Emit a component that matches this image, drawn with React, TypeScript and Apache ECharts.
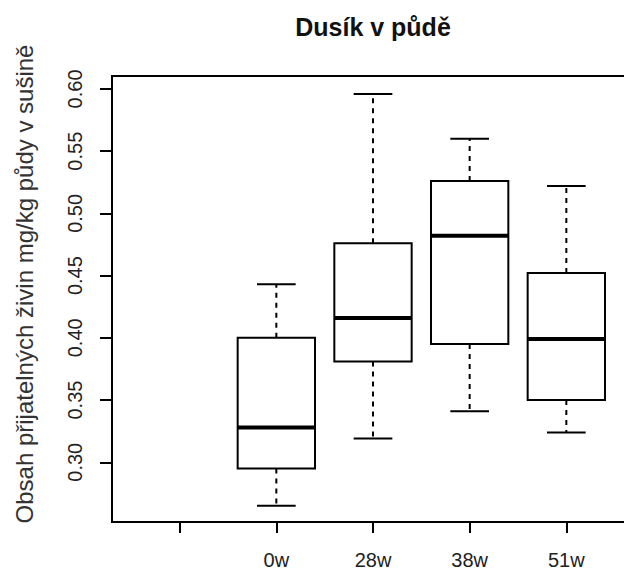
import React, { useEffect, useRef } from "react";
import * as echarts from "echarts";

// Axis categories (position 1 is an empty slot, as in the original layout)
const categories = ["", "0w", "28w", "38w", "51w"];

// Five-number summaries for the sampled groups (positions 2..5)
const groupPositions = [2, 3, 4, 5];
const lowerWhisker = [0.265, 0.319, 0.341, 0.324];
const lowerQuartile = [0.295, 0.381, 0.395, 0.350];
const medians = [0.328, 0.416, 0.482, 0.399];
const upperQuartile = [0.400, 0.476, 0.526, 0.452];
const upperWhisker = [0.443, 0.596, 0.560, 0.522];

const yTicks = [0.30, 0.35, 0.40, 0.45, 0.50, 0.55, 0.60];
const xTicks = [1, 2, 3, 4, 5];

const titleText = "Dusík v půdě";
const yLabelText = "Obsah přijatelných živin mg/kg půdy v sušině";

const FONT = '"Liberation Sans", Arial, sans-serif';

export default function App() {
  const ref = useRef<HTMLDivElement>(null);

  useEffect(() => {
    if (!ref.current) return;
    const chart = echarts.init(ref.current, null, { renderer: "svg" });

    const data = groupPositions.map((x, i) => [
      x,
      lowerWhisker[i],
      lowerQuartile[i],
      medians[i],
      upperQuartile[i],
      upperWhisker[i],
    ]);

    const boxHalf = 0.4;
    const capHalf = 0.2;

    const renderItem = (params: any, api: any) => {
      const x = api.value(0);
      const lo = api.value(1);
      const q1 = api.value(2);
      const md = api.value(3);
      const q3 = api.value(4);
      const hi = api.value(5);

      const tl = api.coord([x - boxHalf, q3]);
      const br = api.coord([x + boxHalf, q1]);
      const cLo = api.coord([x, lo]);
      const cQ1 = api.coord([x, q1]);
      const cQ3 = api.coord([x, q3]);
      const cHi = api.coord([x, hi]);
      const capL = api.coord([x - capHalf, lo])[0];
      const capR = api.coord([x + capHalf, lo])[0];
      const mL = api.coord([x - boxHalf, md]);
      const mR = api.coord([x + boxHalf, md]);

      const dashed = { stroke: "#000", lineWidth: 2, lineDash: [5, 5], fill: null };
      const solid = { stroke: "#000", lineWidth: 2, fill: null };

      return {
        type: "group",
        children: [
          {
            type: "line",
            shape: { x1: cQ3[0], y1: cQ3[1], x2: cHi[0], y2: cHi[1] },
            style: dashed,
          },
          {
            type: "line",
            shape: { x1: cQ1[0], y1: cQ1[1], x2: cLo[0], y2: cLo[1] },
            style: dashed,
          },
          {
            type: "line",
            shape: { x1: capL, y1: cHi[1], x2: capR, y2: cHi[1] },
            style: solid,
          },
          {
            type: "line",
            shape: { x1: capL, y1: cLo[1], x2: capR, y2: cLo[1] },
            style: solid,
          },
          {
            type: "rect",
            shape: { x: tl[0], y: tl[1], width: br[0] - tl[0], height: br[1] - tl[1] },
            style: { stroke: "#000", lineWidth: 2, fill: "#fff" },
          },
          {
            type: "line",
            shape: { x1: mL[0], y1: mL[1], x2: mR[0], y2: mR[1] },
            style: { stroke: "#000", lineWidth: 4 },
          },
        ],
      };
    };

    chart.setOption({
      animation: false,
      backgroundColor: "#fff",
      grid: {
        left: 112,
        top: 76,
        bottom: 50,
        right: 26,
        show: true,
        borderColor: "#000",
        borderWidth: 2,
        backgroundColor: "transparent",
      },
      xAxis: {
        type: "value",
        min: 0.3,
        max: 5.7,
        axisLine: { show: false },
        splitLine: { show: false },
        axisTick: {
          show: true,
          customValues: xTicks,
          length: 11,
          lineStyle: { color: "#000", width: 2 },
        },
        axisLabel: {
          customValues: xTicks,
          formatter: (v: number) => categories[Math.round(v) - 1] ?? "",
          margin: 28,
          fontFamily: FONT,
          fontSize: 20,
          color: "#222",
        },
      },
      yAxis: {
        type: "value",
        min: 0.252,
        max: 0.6104,
        axisLine: { show: false },
        splitLine: { show: false },
        axisTick: {
          show: true,
          customValues: yTicks,
          length: 12,
          lineStyle: { color: "#000", width: 2 },
        },
        axisLabel: {
          customValues: yTicks,
          formatter: (v: number) => v.toFixed(2),
          rotate: 90,
          margin: 27,
          fontFamily: FONT,
          fontSize: 20,
          color: "#222",
        },
      },
      graphic: [
        {
          type: "text",
          x: 373,
          y: 27,
          style: {
            text: titleText,
            font: `bold 25px ${FONT}`,
            fill: "#111",
            align: "center",
            verticalAlign: "middle",
          },
        },
        {
          type: "text",
          x: 24,
          y: 284,
          rotation: Math.PI / 2,
          style: {
            text: yLabelText,
            font: `24px ${FONT}`,
            fill: "#333",
            align: "center",
            verticalAlign: "middle",
          },
        },
      ],
      series: [
        {
          type: "custom",
          renderItem,
          data,
          encode: { x: 0, y: [1, 2, 3, 4, 5] },
          clip: false,
        },
      ],
    });

    return () => chart.dispose();
  }, []);

  return (
    <div
      style={{
        position: "fixed",
        left: 0,
        top: 0,
        width: 624,
        height: 572,
        overflow: "hidden",
        background: "#fff",
      }}
    >
      <div ref={ref} style={{ width: 660, height: 572 }} />
    </div>
  );
}
